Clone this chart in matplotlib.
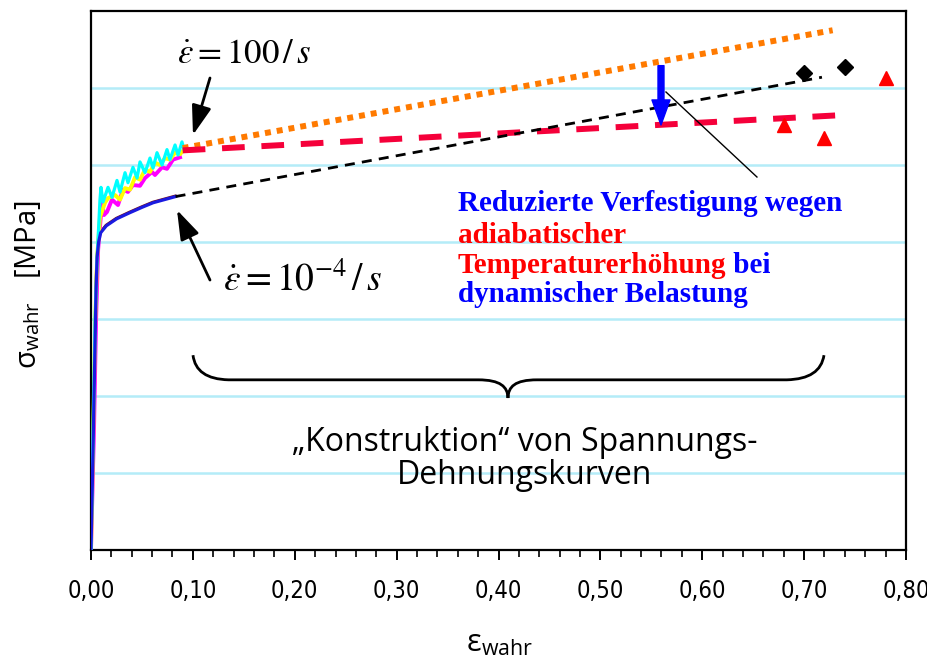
import matplotlib
matplotlib.use("Agg")
import matplotlib.pyplot as plt
from matplotlib.path import Path
from matplotlib.patches import PathPatch
import matplotlib.ticker as mticker

# ---------------- data ----------------
# quasi-static curve (strain rate 1e-4 /s)
static_x = [0.0, 0.002, 0.004, 0.005, 0.006, 0.0075, 0.0095, 0.015, 0.025, 0.038, 0.050, 0.061, 0.072, 0.083]
static_y = [0, 130, 270, 340, 380, 400, 412, 421, 430, 438, 445, 451, 455, 459]

# dynamic curves (strain rate 100 /s)
cyan_x = [0.0, 0.002, 0.004, 0.006, 0.0069, 0.0088, 0.0098, 0.0118, 0.0167, 0.0206, 0.0255, 0.0285,
          0.0334, 0.0363, 0.0412, 0.0452, 0.0481, 0.0530, 0.0579, 0.0609, 0.0648, 0.0697,
          0.0746, 0.0775, 0.0825, 0.0854, 0.0893, 0.0913]
cyan_y = [0, 150, 300, 380, 403, 455, 471, 452, 471, 458, 480, 465,
          490, 477, 497, 483, 504, 490, 509, 496, 516, 500,
          520, 507, 526, 513, 530, 520]

yellow_x = [0.0, 0.002, 0.004, 0.006, 0.0088, 0.0137, 0.0167, 0.0236, 0.0285, 0.0334, 0.0383, 0.0432,
            0.0481, 0.0530, 0.0579, 0.0628, 0.0677, 0.0726, 0.0775, 0.0825, 0.0874, 0.0923]
yellow_y = [0, 140, 290, 380, 432, 451, 457, 461, 455, 470, 468, 484,
            481, 494, 491, 503, 500, 509, 507, 516, 514, 522]

magenta_x = [0.0, 0.003, 0.005, 0.007, 0.0108, 0.0128, 0.0157, 0.0206, 0.0265, 0.0314, 0.0363, 0.0412,
             0.0481, 0.0530, 0.0599, 0.0628, 0.0697, 0.0746, 0.0805, 0.0874]
magenta_y = [0, 160, 300, 390, 452, 435, 439, 455, 448, 468, 465, 474,
             473, 483, 491, 487, 497, 495, 507, 510]

# extrapolations
orange_x = [0.09, 0.728]
orange_y = [522, 675]
red_x = [0.09, 0.74]
red_y = [519, 565]
black_x = [0.083, 0.7175]
black_y = [459, 614]

# experimental points
diamond_x = [0.70, 0.74]
diamond_y = [619, 627]
triangle_x = [0.68, 0.72, 0.78]
triangle_y = [552, 535, 613]

# reduction arrow (strain, stress from -> to)
drop_x = 0.5595
drop_from = 629
drop_to = 552

xticks = [0.0, 0.1, 0.2, 0.3, 0.4, 0.5, 0.6, 0.7, 0.8]
xtick_labels = ["0,00", "0,10", "0,20", "0,30", "0,40", "0,50", "0,60", "0,70", "0,80"]
ygrid = [100, 200, 300, 400, 500, 600]

# ---------------- figure ----------------
plt.rcParams["mathtext.fontset"] = "stix"
fig = plt.figure(figsize=(9.28, 6.62), dpi=100)
ax = fig.add_axes([91 / 928, 112 / 662, 815 / 928, 539 / 662])
ax.set_xlim(0, 0.8)
ax.set_ylim(0, 700)

for g in ygrid:
    ax.axhline(g, color="#b4ecf8", lw=1.8, zorder=0)

# static curves
ax.plot([x - 0.0003 for x in static_x], [y + 0.8 for y in static_y], color="#7a1010", lw=2.0, zorder=3)
ax.plot(static_x, static_y, color="#1a1ae0", lw=2.3, zorder=4)

# dynamic curves
ax.plot(magenta_x, magenta_y, color="#ff00ff", lw=2.8, zorder=3)
ax.plot(yellow_x, yellow_y, color="#ffff00", lw=2.8, zorder=3)
ax.plot(cyan_x, cyan_y, color="#00ffff", lw=2.3, zorder=3)

# extrapolations
ax.plot(orange_x, orange_y, color="#ff7a00", lw=4.3, dashes=(1, 1), zorder=5)
ax.plot(red_x, red_y, color="#f5003a", lw=4.3, dashes=(3.8, 2.8), zorder=5)
ax.plot(black_x, black_y, color="black", lw=2.0, dashes=(3.6, 2.6), zorder=5)

ax.plot(diamond_x, diamond_y, ls="none", marker="D", ms=8.5, color="black", zorder=6)
ax.plot(triangle_x, triangle_y, ls="none", marker="^", ms=10.5, color="#ff0000", zorder=6)

# blue arrow (reduction)
ax.annotate("", xy=(drop_x, drop_to), xytext=(drop_x, drop_from),
            arrowprops=dict(facecolor="#0000ff", edgecolor="#0000ff", width=4.3,
                            headwidth=13, headlength=18, shrink=0), zorder=7)

# thin pointer line
ax.plot([0.5644, 0.6537], [594.8, 484.4], color="black", lw=1.0, zorder=6)

# strain rate labels
ax.text(0.0844, 632.5, r"$\dot{\varepsilon} = 100\,/\,s$", fontsize=25, ha="left", va="baseline")
ax.text(0.1296, 336.4, r"$\dot{\varepsilon} = 10^{-4}\,/\,s$", fontsize=27, ha="left", va="baseline")

arrow_kw = dict(arrowstyle="-|>,head_length=1.8,head_width=0.6", color="black", lw=2.0,
                shrinkA=0, shrinkB=0, mutation_scale=10)
ax.annotate("", xy=(0.1001, 539), xytext=(0.1168, 613), arrowprops=arrow_kw)
ax.annotate("", xy=(0.0844, 441.6), xytext=(0.1168, 350.6), arrowprops=arrow_kw)

# explanatory text
serif = dict(family="Liberation Serif", fontweight="bold", fontsize=21, va="baseline", ha="left")
ax.text(0.3602, 440.3, "Reduzierte Verfestigung wegen", color="#0000ff", **serif)
ax.text(0.3602, 398.7, "adiabatischer", color="#ff0000", **serif)
t = ax.text(0.3602, 359.7, "Temperaturerhöhung", color="#ff0000", **serif)
ax.annotate(" bei", xycoords=t, xy=(1, 0), va="bottom", ha="left", color="#0000ff",
            family="Liberation Serif", fontweight="bold", fontsize=21)
ax.text(0.3602, 322.1, "dynamischer Belastung", color="#0000ff", **serif)

# curly brace
verts = [(0.1001, 253), (0.103, 222), (0.135, 221), (0.38, 221),
         (0.402, 221), (0.409, 212), (0.4093, 197.4),
         (0.4096, 212), (0.416, 221), (0.438, 221),
         (0.683, 221), (0.716, 222), (0.7195, 253)]
codes = [Path.MOVETO, Path.CURVE3, Path.CURVE3, Path.LINETO,
         Path.CURVE4, Path.CURVE4, Path.CURVE4,
         Path.CURVE4, Path.CURVE4, Path.CURVE4,
         Path.LINETO, Path.CURVE3, Path.CURVE3]
ax.add_patch(PathPatch(Path(verts, codes), fill=False, lw=2.0, edgecolor="black", zorder=5))

sans = dict(family="Open Sans", fontsize=23, ha="center", va="baseline")
ax.text(0.426, 128.6, "„Konstruktion“ von Spannungs-", **sans)
ax.text(0.426, 85.7, "Dehnungskurven", **sans)

# axes styling
ax.set_yticks([])
ax.set_xticks(xticks)
ax.set_xticklabels(xtick_labels, family="DejaVu Sans", fontstretch="condensed", fontsize=17)
ax.xaxis.set_minor_locator(mticker.MultipleLocator(0.02))
ax.tick_params(axis="x", which="major", direction="out", length=7, width=1.4, pad=14)
ax.tick_params(axis="x", which="minor", direction="out", length=5, width=1.2)
for s in ax.spines.values():
    s.set_linewidth(1.6)

fig.text(500 / 928, 1 - 644 / 662, "ε$_\\mathregular{wahr}$", fontsize=22, ha="center", va="center",
         family="Open Sans")
fig.text(28 / 928, 1 - 285 / 662, "σ$_\\mathregular{wahr}$   [MPa]", fontsize=21, rotation=90,
         ha="center", va="center", family="Open Sans")

fig.savefig("out.png", dpi=100)
